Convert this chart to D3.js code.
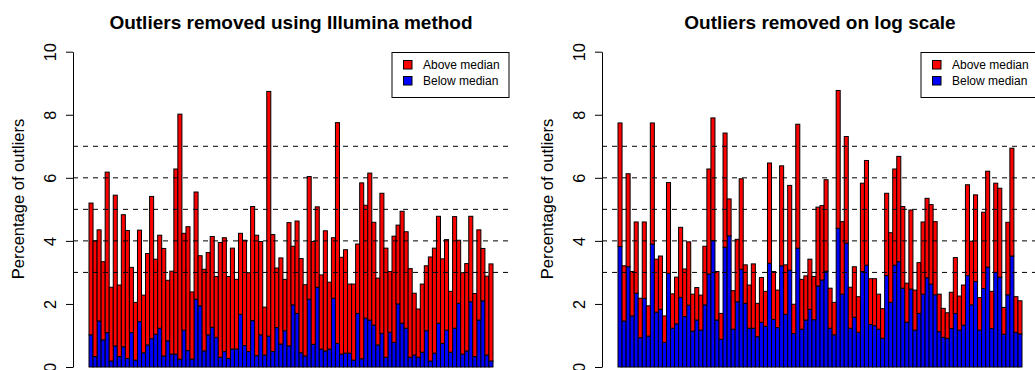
<!DOCTYPE html>
<html>
<head>
<meta charset="utf-8">
<script src="https://cdn.jsdelivr.net/npm/d3@7"></script>
<style>
  html, body { margin: 0; padding: 0; background: #fff; }
  svg { display: block; font-family: "Liberation Sans", Arial, Helvetica, sans-serif; }
</style>
</head>
<body>
<svg id="chart" width="1035" height="370"></svg>
<script>
// ---------- data ----------
const sampleIds = d3.range(1, 101);

const titles = ["Outliers removed using Illumina method", "Outliers removed on log scale"];
const seriesNames = ["Above median", "Below median"];
const yTicks = [0, 2, 4, 6, 8, 10];
const refLines = [3, 4, 5, 6, 7];

// total percentage of outliers per array (Illumina method)
const illuminaTotal = [
  5.2, 4.0, 4.35, 3.34, 6.18, 2.53, 5.45, 2.6, 4.83, 4.33,
  3.16, 2.05, 4.34, 2.28, 3.6, 5.41, 3.42, 4.18, 3.76, 2.75,
  3.04, 6.28, 8.02, 4.24, 4.45, 2.38, 5.55, 3.53, 3.1, 3.63,
  4.14, 2.87, 3.95, 4.1, 2.87, 3.77, 2.78, 4.24, 4.02, 2.99,
  5.09, 4.18, 3.98, 1.9, 8.74, 4.2, 3.14, 3.46, 2.78, 4.58,
  3.83, 4.63, 3.44, 2.61, 6.04, 3.98, 5.08, 2.92, 4.32, 2.69,
  4.1, 7.75, 3.48, 3.72, 2.63, 2.63, 3.9, 5.84, 5.13, 6.15,
  4.59, 2.82, 5.51, 3.77, 3.03, 4.15, 4.5, 4.94, 4.29, 3.12,
  2.34, 1.84, 2.63, 3.21, 3.49, 3.77, 4.78, 3.43, 4.04, 2.4,
  4.77, 4.02, 2.99, 3.28, 4.78, 2.33, 4.35, 3.76, 2.88, 3.27
];
// below-median part (Illumina method)
const illuminaBelow = [
  1.02, 0.33, 1.46, 0.86, 1.09, 0.19, 0.67, 0.33, 0.64, 0.27,
  1.09, 0.22, 1.44, 0.45, 0.7, 0.9, 1.04, 1.23, 0.35, 0.83,
  0.41, 0.41, 0.25, 1.17, 0.52, 0.25, 2.15, 1.94, 0.51, 1.02,
  1.26, 0.94, 0.31, 0.49, 0.27, 0.57, 0.57, 1.67, 0.68, 0.49,
  1.47, 0.36, 1.02, 0.38, 0.98, 0.49, 1.25, 0.73, 1.15, 0.67,
  1.97, 1.7, 0.45, 0.35, 2.15, 0.72, 2.53, 0.57, 0.51, 0.57,
  2.18, 0.75, 0.41, 0.44, 0.44, 0.22, 1.7, 0.26, 1.55, 1.49,
  1.33, 0.7, 1.07, 0.31, 1.1, 0.78, 2.0, 1.39, 1.23, 0.31,
  0.38, 0.31, 0.47, 1.15, 0.19, 0.44, 1.39, 0.75, 1.17, 0.47,
  1.23, 2.02, 0.41, 0.51, 2.07, 0.33, 1.49, 2.1, 0.38, 0.19
];

// total percentage of outliers per array (log scale)
const logTotal = [
  7.74, 3.21, 6.13, 3.03, 4.6, 2.18, 4.6, 1.94, 7.74, 3.42,
  3.52, 1.62, 5.85, 2.32, 2.85, 4.43, 3.11, 3.97, 2.31, 2.52,
  2.28, 3.83, 6.28, 7.9, 3.03, 1.7, 7.42, 5.33, 2.42, 4.05,
  5.97, 3.24, 2.6, 3.27, 2.02, 2.84, 2.4, 6.47, 3.03, 2.44,
  6.38, 3.24, 5.76, 1.99, 7.7, 2.78, 2.89, 3.42, 2.87, 5.07,
  5.12, 5.94, 2.5, 2.05, 8.77, 4.61, 7.31, 2.53, 3.18, 2.23,
  5.83, 6.55, 2.8, 2.8, 2.31, 1.85, 5.51, 4.26, 6.28, 6.68,
  5.09, 2.66, 4.98, 2.44, 3.31, 4.6, 5.35, 5.15, 4.61, 2.31,
  1.86, 1.72, 2.37, 3.47, 2.25, 2.6, 5.78, 3.99, 5.46, 2.2,
  4.91, 6.21, 2.4, 5.83, 5.67, 1.89, 4.59, 6.94, 2.23, 2.1
];
// below-median part (log scale)
const logBelow = [
  3.82, 1.46, 3.18, 1.62, 2.34, 0.93, 2.18, 0.98, 3.9, 1.74,
  1.83, 0.78, 2.97, 1.23, 1.37, 2.21, 1.6, 1.96, 1.14, 1.49,
  1.17, 1.97, 2.95, 4.01, 1.49, 0.88, 3.8, 4.16, 1.2, 2.07,
  3.1, 2.02, 1.23, 1.23, 0.96, 1.42, 1.29, 3.29, 1.51, 1.25,
  3.21, 1.67, 3.07, 1.06, 3.77, 1.2, 1.49, 1.83, 1.5, 2.57,
  2.76, 3.04, 1.23, 1.02, 4.4, 2.31, 3.93, 1.23, 1.58, 1.1,
  3.03, 3.23, 1.35, 1.31, 1.2, 0.91, 2.9, 2.05, 3.23, 3.34,
  2.5, 1.42, 2.47, 1.17, 1.7, 2.31, 2.83, 2.63, 2.29, 1.12,
  0.94, 0.91, 1.22, 1.7, 1.17, 1.33, 2.9, 1.97, 2.71, 1.17,
  2.49, 3.17, 1.22, 3.0, 2.85, 1.04, 2.29, 3.52, 1.1, 1.05
];

// ---------- drawing ----------
const svg = d3.select("#chart");
const colors = { "Above median": "#FF0000", "Below median": "#0000FF" };

const panels = [
  { title: titles[0], total: illuminaTotal, below: illuminaBelow, off: 0 },
  { title: titles[1], total: logTotal, below: logBelow, off: 529 }
];

const y = d3.scaleLinear().domain([0, 10]).range([367, 51.7]);

panels.forEach(p => {
  const g = svg.append("g").attr("transform", `translate(${p.off},0)`);
  const plotLeft = 73, plotRight = 509;

  const x = d3.scaleBand().domain(sampleIds).range([89, 493]).paddingInner(0).paddingOuter(0);

  const rows = sampleIds.map((id, i) => ({
    id,
    "Below median": p.below[i],
    "Above median": p.total[i] - p.below[i]
  }));
  const stacked = d3.stack().keys(["Below median", "Above median"])(rows);

  // bars
  stacked.forEach(layer => {
    g.append("g")
      .selectAll("rect")
      .data(layer)
      .join("rect")
      .attr("x", d => x(d.data.id))
      .attr("width", x.bandwidth())
      .attr("y", d => y(d[1]))
      .attr("height", d => y(d[0]) - y(d[1]))
      .attr("fill", colors[layer.key])
      .attr("stroke", "#000")
      .attr("stroke-width", 1);
  });

  // dashed reference lines
  g.append("g")
    .selectAll("line")
    .data(refLines)
    .join("line")
    .attr("x1", plotLeft).attr("x2", plotRight)
    .attr("y1", d => y(d)).attr("y2", d => y(d))
    .attr("stroke", "#000")
    .attr("stroke-width", 1)
    .attr("stroke-dasharray", "5,5");

  // y axis
  const axis = d3.axisLeft(y).tickValues(yTicks).tickSize(7).tickSizeOuter(0).tickFormat(d3.format("d"));
  const ag = g.append("g").attr("transform", `translate(${plotLeft},0)`).call(axis);
  ag.select(".domain").attr("stroke", "#000").attr("stroke-width", 1);
  ag.selectAll(".tick line").attr("stroke", "#000");
  ag.selectAll(".tick text")
    .attr("transform", "rotate(-90)")
    .attr("x", 0)
    .attr("y", -17)
    .attr("dy", null)
    .attr("text-anchor", "middle")
    .attr("font-size", 16.3)
    .attr("font-family", "Liberation Sans, Arial, Helvetica, sans-serif")
    .attr("fill", "#000");

  // y label
  g.append("text")
    .attr("transform", "translate(24,199) rotate(-90)")
    .attr("text-anchor", "middle")
    .attr("font-size", 16.5)
    .attr("fill", "#000")
    .text("Percentage of outliers");

  // title
  g.append("text")
    .attr("x", (plotLeft + plotRight) / 2)
    .attr("y", 29)
    .attr("text-anchor", "middle")
    .attr("font-size", 19)
    .attr("font-weight", "bold")
    .attr("fill", "#000")
    .text(p.title);

  // legend
  const lg = g.append("g");
  lg.append("rect")
    .attr("x", 392).attr("y", 52.5)
    .attr("width", 117).attr("height", 45)
    .attr("fill", "#fff").attr("stroke", "#000").attr("stroke-width", 1);
  seriesNames.forEach((name, i) => {
    const cy = 65 + i * 16;
    lg.append("rect")
      .attr("x", 403.5).attr("y", cy - 4.5)
      .attr("width", 8.5).attr("height", 8.5)
      .attr("fill", colors[name]).attr("stroke", "#000").attr("stroke-width", 1);
    lg.append("text")
      .attr("x", 423).attr("y", cy + 4.3)
      .attr("font-size", 12)
      .attr("fill", "#000")
      .text(name);
  });
});
</script>
</body>
</html>
